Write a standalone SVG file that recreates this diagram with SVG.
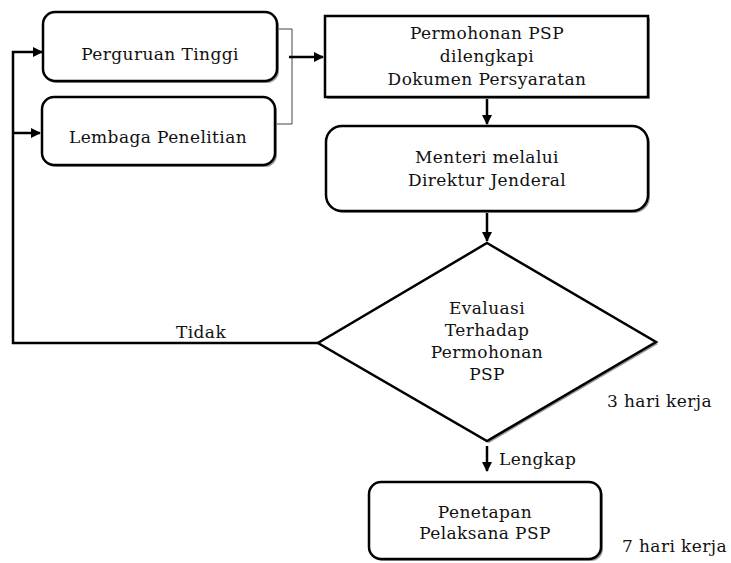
<svg xmlns="http://www.w3.org/2000/svg" width="731" height="563" viewBox="0 0 731 563">
<defs>
<marker id="ah" markerWidth="10" markerHeight="10" refX="9" refY="5" orient="auto" markerUnits="userSpaceOnUse">
<path d="M0,0 L10,5 L0,10 Z" fill="#000"/>
</marker>
<style>
.box{fill:#fff;stroke:#000;stroke-width:2.5}
.sh{fill:#9a9a9a;stroke:none}
.t{font-family:"DejaVu Serif","Liberation Serif",serif;font-size:17px;letter-spacing:0.4px;fill:#111;text-anchor:middle}
.tl{font-family:"DejaVu Serif","Liberation Serif",serif;font-size:17px;letter-spacing:0.4px;fill:#111}
.c{fill:none;stroke:#000;stroke-width:2.5}
.thin{fill:none;stroke:#444;stroke-width:1}
</style>
</defs>
<rect width="731" height="563" fill="#fff"/>
<g id="connectors">
<path class="c" d="M318,343 H13 V52 H42" marker-end="url(#ah)"/>
<path class="c" d="M13,133 H40" marker-end="url(#ah)"/>
<path class="thin" d="M278,29 H292 V124 H276"/>
<path class="c" d="M289,57 H323" marker-end="url(#ah)"/>
<path class="c" d="M487,97 V124" marker-end="url(#ah)"/>
<path class="c" d="M487,211 V241" marker-end="url(#ah)"/>
<path class="c" d="M487,446 V471" marker-end="url(#ah)"/>
<text class="tl" x="176" y="338">Tidak</text>
<text class="tl" x="499" y="465">Lengkap</text>
</g>
<g id="perguruan">
<rect class="sh" x="45" y="14" width="234" height="69" rx="12"/>
<rect class="box" x="43" y="12" width="234" height="69" rx="12"/>
<text class="t" x="160" y="60">Perguruan Tinggi</text>
</g>
<g id="lembaga">
<rect class="sh" x="44" y="99" width="233" height="68" rx="12"/>
<rect class="box" x="42" y="97" width="233" height="68" rx="12"/>
<text class="t" x="158" y="143">Lembaga Penelitian</text>
</g>
<g id="permohonan">
<rect class="sh" x="327" y="18" width="323" height="81"/>
<rect class="box" x="325" y="16" width="323" height="81"/>
<text class="t" x="487" y="39">Permohonan PSP</text>
<text class="t" x="487" y="62">dilengkapi</text>
<text class="t" x="487" y="85">Dokumen Persyaratan</text>
</g>
<g id="menteri">
<rect class="sh" x="328" y="128" width="322" height="85" rx="16"/>
<rect class="box" x="326" y="126" width="322" height="85" rx="16"/>
<text class="t" x="487" y="163">Menteri melalui</text>
<text class="t" x="487" y="186">Direktur Jenderal</text>
</g>
<g id="evaluasi">
<polygon class="sh" points="489,245 658,344 489,443 320,345"/>
<polygon class="box" points="487,243 656,342 487,441 318,343"/>
<text class="t" x="487" y="314">Evaluasi</text>
<text class="t" x="487" y="336">Terhadap</text>
<text class="t" x="487" y="358">Permohonan</text>
<text class="t" x="487" y="380">PSP</text>
</g>
<g id="penetapan">
<rect class="sh" x="371" y="484" width="232" height="77" rx="12"/>
<rect class="box" x="369" y="482" width="232" height="77" rx="12"/>
<text class="t" x="485" y="518">Penetapan</text>
<text class="t" x="485" y="539">Pelaksana PSP</text>
</g>
<g id="notes">
<text class="tl" x="607" y="407">3 hari kerja</text>
<text class="tl" x="622" y="552">7 hari kerja</text>
</g>
</svg>
